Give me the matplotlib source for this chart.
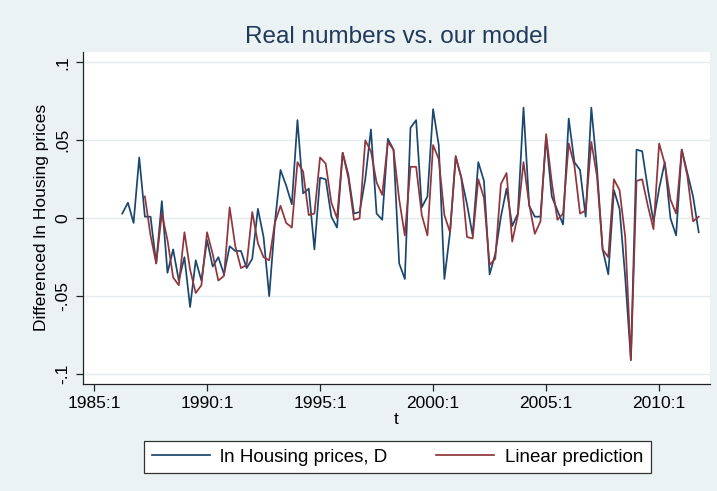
import matplotlib
matplotlib.use("Agg")
import matplotlib.pyplot as plt

plt.rcParams['font.family'] = ['Liberation Sans', 'DejaVu Sans']

# Quarterly index: Stata-style %tq (1960q1 = 0); 1985q1 = 100
actual_start = 105   # 1986q2
actual = [0.003, 0.010, -0.003, 0.039, 0.001, 0.001, -0.029, 0.011, -0.035, -0.020,
          -0.040, -0.025, -0.057, -0.027, -0.040, -0.014, -0.031, -0.025, -0.036, -0.018,
          -0.021, -0.021, -0.032, -0.026, 0.006, -0.012, -0.050, -0.003, 0.031, 0.021,
          0.009, 0.063, 0.016, 0.019, -0.020, 0.026, 0.025, 0.001, -0.006, 0.042,
          0.028, 0.003, 0.004, 0.025, 0.057, 0.003, -0.001, 0.051, 0.044, -0.029,
          -0.039, 0.058, 0.063, 0.007, 0.014, 0.070, 0.047, -0.039, -0.009, 0.039,
          0.026, 0.009, -0.011, 0.036, 0.024, -0.036, -0.023, 0.001, 0.019, -0.005,
          0.003, 0.071, 0.008, 0.001, 0.001, 0.052, 0.014, 0.005, -0.004, 0.064,
          0.036, 0.031, 0.001, 0.071, 0.032, -0.020, -0.036, 0.018, 0.006, -0.038,
          -0.091, 0.044, 0.043, 0.019, -0.002, 0.019, 0.036, 0.000, -0.011, 0.044,
          0.029, 0.014, -0.009]

pred_start = 109     # 1987q2
predicted = [0.014, -0.011, -0.029, 0.003, -0.014, -0.038, -0.043, -0.009, -0.033, -0.048,
             -0.043, -0.009, -0.023, -0.040, -0.037, 0.007, -0.018, -0.032, -0.030, 0.004,
             -0.016, -0.025, -0.027, -0.003, 0.008, -0.003, -0.006, 0.036, 0.030, 0.002,
             0.003, 0.039, 0.035, 0.010, 0.000, 0.042, 0.026, -0.001, 0.000, 0.050,
             0.043, 0.023, 0.015, 0.049, 0.044, 0.012, -0.011, 0.033, 0.033, 0.002,
             -0.011, 0.047, 0.038, 0.002, -0.009, 0.040, 0.026, -0.012, -0.013, 0.025,
             0.013, -0.030, -0.026, 0.022, 0.029, -0.015, 0.002, 0.036, 0.009, -0.010,
             -0.002, 0.054, 0.023, -0.001, 0.003, 0.048, 0.034, 0.003, 0.005, 0.049,
             0.027, -0.020, -0.025, 0.025, 0.018, -0.012, -0.091, 0.024, 0.025, 0.008,
             -0.007, 0.048, 0.035, 0.012, 0.003, 0.044, 0.027, -0.002, 0.001]

xtick_pos = [100, 120, 140, 160, 180, 200]
xtick_labels = ["1985:1", "1990:1", "1995:1", "2000:1", "2005:1", "2010:1"]
ytick_pos = [-0.1, -0.05, 0, 0.05, 0.1]
ytick_labels = ["-.1", "-.05", "0", ".05", ".1"]

BG = '#EAF2F3'
BLUE = '#1A476F'
RED = '#90353B'

W, H = 717, 491
fig = plt.figure(figsize=(W / 100, H / 100), dpi=100, facecolor=BG)
ax = fig.add_axes([83 / W, 1 - 384 / H, (710 - 83) / W, (384 - 51.7) / H])
ax.set_facecolor('white')

x_act = [actual_start + i for i in range(len(actual))]
x_pred = [pred_start + i for i in range(len(predicted))]
l1, = ax.plot(x_act, actual, color=BLUE, lw=1.25, label='ln Housing prices, D')
l2, = ax.plot(x_pred, predicted, color=RED, lw=1.25, label='Linear prediction')

ax.set_xlim(98.05, 209.0)
ax.set_ylim(-0.1064, 0.1069)
ax.set_xticks(xtick_pos)
ax.set_xticklabels(xtick_labels, fontsize=12.5)
ax.set_yticks(ytick_pos)
ax.set_yticklabels(ytick_labels, fontsize=12.5, rotation=90, va='center')
ax.grid(axis='y', color='#E3ECEF', lw=1.0)
ax.set_axisbelow(True)
for s in ['top', 'right']:
    ax.spines[s].set_visible(False)
for s in ['left', 'bottom']:
    ax.spines[s].set_color('#222222')
    ax.spines[s].set_linewidth(0.9)
ax.tick_params(axis='both', direction='out', length=5, width=0.9, color='#222222', pad=4)
ax.set_xlabel('t', fontsize=12.5, labelpad=0)
ax.set_ylabel('Differenced ln Housing prices', fontsize=12.5, labelpad=5)

fig.text(396.5 / W, 1 - 37 / H, 'Real numbers vs. our model', ha='center', va='center',
         fontsize=17.5, color='#22395C')

leg = fig.legend(handles=[l1, l2], loc='center', bbox_to_anchor=(397.5 / W, 1 - 457 / H),
                 ncol=2, fontsize=13.5, frameon=True, fancybox=False, edgecolor='#333333',
                 framealpha=1, handlelength=3.1, handletextpad=0.55, columnspacing=2.6,
                 borderpad=0.42)
leg.get_frame().set_linewidth(0.9)

fig.savefig('out.png', dpi=100, facecolor=BG)
